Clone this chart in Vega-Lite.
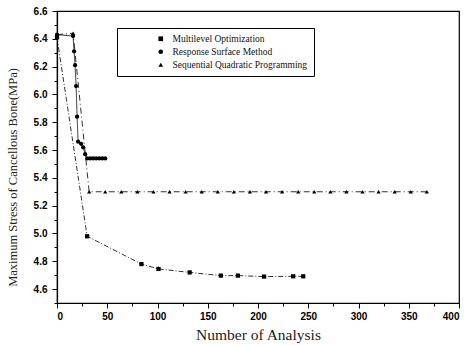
{
  "$schema": "https://vega.github.io/schema/vega-lite/v6.json",
  "width": 402,
  "height": 292,
  "autosize": "none",
  "padding": {"left": 57, "top": 11, "right": 13, "bottom": 42},
  "background": "white",
  "config": {
    "view": {"stroke": "black", "strokeWidth": 1.2},
    "axis": {"grid": false, "domainColor": "black", "domainWidth": 1.2, "tickColor": "black", "labelColor": "black", "labelFont": "Liberation Sans", "labelFontSize": 10, "labelFontWeight": "bold", "titleFont": "Liberation Serif", "titleFontWeight": "normal", "titleColor": "#222"},
    "legend": {"orient": "none", "legendX": 60, "legendY": 17, "title": null,
      "strokeColor": "black", "fillColor": "white", "padding": 6,
      "labelFont": "Liberation Serif", "labelFontSize": 9.5, "labelColor": "#111",
      "symbolSize": 22, "symbolOffset": 33, "rowPadding": 2, "labelOffset": 7,
      "symbolFillColor": "black", "symbolStrokeColor": "black", "symbolStrokeWidth": 1}
  },
  "data": {"values": [
    {"series": "Multilevel Optimization", "x": 0, "y": 6.41},
    {"series": "Multilevel Optimization", "x": 30, "y": 4.98},
    {"series": "Multilevel Optimization", "x": 84, "y": 4.78},
    {"series": "Multilevel Optimization", "x": 101, "y": 4.745},
    {"series": "Multilevel Optimization", "x": 132, "y": 4.72},
    {"series": "Multilevel Optimization", "x": 163, "y": 4.697},
    {"series": "Multilevel Optimization", "x": 180, "y": 4.697},
    {"series": "Multilevel Optimization", "x": 206, "y": 4.69},
    {"series": "Multilevel Optimization", "x": 235, "y": 4.692},
    {"series": "Multilevel Optimization", "x": 245, "y": 4.692},
    {"series": "Response Surface Method", "x": 0, "y": 6.43},
    {"series": "Response Surface Method", "x": 16, "y": 6.42},
    {"series": "Response Surface Method", "x": 17, "y": 6.31},
    {"series": "Response Surface Method", "x": 18, "y": 6.21},
    {"series": "Response Surface Method", "x": 19, "y": 6.06},
    {"series": "Response Surface Method", "x": 20, "y": 5.84},
    {"series": "Response Surface Method", "x": 21, "y": 5.66},
    {"series": "Response Surface Method", "x": 24, "y": 5.645},
    {"series": "Response Surface Method", "x": 26, "y": 5.62},
    {"series": "Response Surface Method", "x": 28, "y": 5.57},
    {"series": "Response Surface Method", "x": 30, "y": 5.54},
    {"series": "Response Surface Method", "x": 33, "y": 5.54},
    {"series": "Response Surface Method", "x": 36, "y": 5.54},
    {"series": "Response Surface Method", "x": 39, "y": 5.54},
    {"series": "Response Surface Method", "x": 42, "y": 5.54},
    {"series": "Response Surface Method", "x": 45, "y": 5.54},
    {"series": "Response Surface Method", "x": 48, "y": 5.54},
    {"series": "Sequential Quadratic Programming", "x": 0, "y": 6.43},
    {"series": "Sequential Quadratic Programming", "x": 16, "y": 6.44},
    {"series": "Sequential Quadratic Programming", "x": 32, "y": 5.3},
    {"series": "Sequential Quadratic Programming", "x": 48, "y": 5.3},
    {"series": "Sequential Quadratic Programming", "x": 64, "y": 5.3},
    {"series": "Sequential Quadratic Programming", "x": 80, "y": 5.3},
    {"series": "Sequential Quadratic Programming", "x": 96, "y": 5.3},
    {"series": "Sequential Quadratic Programming", "x": 112, "y": 5.3},
    {"series": "Sequential Quadratic Programming", "x": 128, "y": 5.3},
    {"series": "Sequential Quadratic Programming", "x": 144, "y": 5.3},
    {"series": "Sequential Quadratic Programming", "x": 160, "y": 5.3},
    {"series": "Sequential Quadratic Programming", "x": 176, "y": 5.3},
    {"series": "Sequential Quadratic Programming", "x": 192, "y": 5.3},
    {"series": "Sequential Quadratic Programming", "x": 208, "y": 5.3},
    {"series": "Sequential Quadratic Programming", "x": 224, "y": 5.3},
    {"series": "Sequential Quadratic Programming", "x": 240, "y": 5.3},
    {"series": "Sequential Quadratic Programming", "x": 256, "y": 5.3},
    {"series": "Sequential Quadratic Programming", "x": 272, "y": 5.3},
    {"series": "Sequential Quadratic Programming", "x": 288, "y": 5.3},
    {"series": "Sequential Quadratic Programming", "x": 304, "y": 5.3},
    {"series": "Sequential Quadratic Programming", "x": 320, "y": 5.3},
    {"series": "Sequential Quadratic Programming", "x": 336, "y": 5.3},
    {"series": "Sequential Quadratic Programming", "x": 352, "y": 5.3},
    {"series": "Sequential Quadratic Programming", "x": 368, "y": 5.3}
  ]},
  "encoding": {
    "x": {"field": "x", "type": "quantitative",
      "scale": {"domain": [0, 400], "nice": false, "zero": false},
      "axis": {"title": "Number of Analysis", "titleFontSize": 15.5, "titlePadding": 6,
        "values": [0,25,50,75,100,125,150,175,200,225,250,275,300,325,350,375,400],
        "labelExpr": "datum.value % 50 == 0 ? format(datum.value, 'd') : ''",
        "tickSize": {"condition": {"test": "datum.value % 50 != 0", "value": 3}, "value": 5},
        "labelPadding": 3}},
    "y": {"field": "y", "type": "quantitative",
      "scale": {"domain": [4.5, 6.6], "nice": false, "zero": false},
      "axis": {"title": "Maximum Stress of Cancellous Bone(MPa)", "titleFontSize": 12.5,
        "values": [4.5,4.6,4.7,4.8,4.9,5.0,5.1,5.2,5.3,5.4,5.5,5.6,5.7,5.8,5.9,6.0,6.1,6.2,6.3,6.4,6.5,6.6],
        "labelExpr": "round(datum.value*10) % 2 == 0 ? format(datum.value, '.1f') : ''",
        "tickSize": {"condition": {"test": "round(datum.value*10) % 2 != 0", "value": 3}, "value": 5},
        "labelPadding": 5, "titleX": -38, "titleY": 166}}
  },
  "layer": [
    {
      "mark": {"type": "line", "color": "#1a1a1a", "strokeWidth": 0.9},
      "encoding": {
        "strokeDash": {"field": "series", "type": "nominal",
          "scale": {"domain": ["Multilevel Optimization", "Response Surface Method", "Sequential Quadratic Programming"], "range": [[5,2,1,2],[1,0],[6,3,1,3]]}},
        "order": {"field": "x", "type": "quantitative"}
      }
    },
    {
      "mark": {"type": "point", "filled": true, "color": "black", "opacity": 1, "size": 18},
      "encoding": {
        "shape": {"field": "series", "type": "nominal",
          "scale": {"domain": ["Multilevel Optimization", "Response Surface Method", "Sequential Quadratic Programming"], "range": ["square", "circle", "triangle-up"]}}
      }
    }
  ]
}
